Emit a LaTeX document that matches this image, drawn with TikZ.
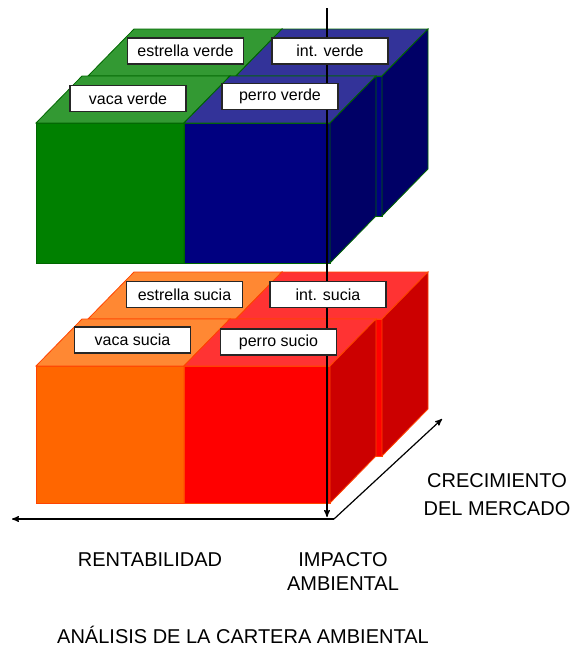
\documentclass[tikz,border=0pt]{standalone}
\usepackage{fontspec}
\setmainfont{Liberation Sans}
\usepackage{tikz}
\usetikzlibrary{arrows}
\definecolor{verdefrente}{HTML}{008000}
\definecolor{verdearriba}{HTML}{339933}
\definecolor{azulfrente}{HTML}{000080}
\definecolor{azularriba}{HTML}{333399}
\definecolor{azullado}{HTML}{000066}
\definecolor{bordeverde}{HTML}{006600}
\definecolor{naranjafrente}{HTML}{FF6600}
\definecolor{naranjaarriba}{HTML}{FF8833}
\definecolor{rojofrente}{HTML}{FF0000}
\definecolor{rojoarriba}{HTML}{FF3333}
\definecolor{rojolado}{HTML}{CC0000}
\definecolor{bordenaranja}{HTML}{FF4400}
\tikzset{
  etiqueta/.style = {draw = black!85, line width = 1pt, fill = white,
    minimum width = 87pt, minimum height = 19.5pt, inner sep = 0pt,
    font = \fontsize{12}{14}\selectfont},
  eje/.style = {align = center, font = \fontsize{15}{18}\selectfont},
  flecha/.style = {->, > = stealth', line width = 0.9pt}
}
% one cube: x, y, width, height, front, top, side, edge
\newcommand{\cubo}[8]{
  \filldraw [fill = #5, draw = #8, line width = 0.6pt] (#1,#2) rectangle ++(#3,#4);
  \filldraw [fill = #6, draw = #8, line width = 0.6pt]
    (#1,#2) -- ++(46,-47) -- ++(#3,0) -- ++(-46,47) -- cycle;
  \filldraw [fill = #7, draw = #8, line width = 0.6pt]
    (#1,#2) ++(#3,0) -- ++(46,-47) -- ++(0,#4) -- ++(-46,47) -- cycle;
}

\begin{document}
\begin{tikzpicture}[x = 0.75pt, y = -0.75pt]
  \useasboundingbox (0,0) rectangle (573,646);
  % blocks: back row first, then front row
  \foreach \yy/\hh/\cizq/\tizq/\cder/\tder/\cla/\cbo in
    {123/140/verdefrente/verdearriba/azulfrente/azularriba/azullado/bordeverde,
     366/137/naranjafrente/naranjaarriba/rojofrente/rojoarriba/rojolado/bordenaranja} {
    \pgfmathtruncatemacro \yb { \yy - 47 };
    \cubo{88}{\yb}{148}{\hh}{\cizq}{\tizq}{\cla}{\cbo}
    \cubo{236}{\yb}{146}{\hh}{\cder}{\tder}{\cla}{\cbo}
    \cubo{36}{\yy}{148}{\hh}{\cizq}{\tizq}{\cla}{\cbo}
    \cubo{184}{\yy}{146}{\hh}{\cder}{\tder}{\cla}{\cbo}
  }
  % axes
  \coordinate (imparriba) at (327,8);
  \coordinate (impabajo) at (327,517);
  \coordinate (origen) at (334,519);
  \coordinate (rent) at (12,519);
  \coordinate (crec) at (442,419);
  \draw [flecha] (imparriba) -- (impabajo);
  \draw [flecha] (origen) -- (rent);
  \draw [flecha] (origen) -- (crec);
  % labels
  \node [etiqueta] (estrellaverde) at (185.5,51) {estrella verde};
  \node [etiqueta] (intverde) at (330,51) {int. verde};
  \node [etiqueta] (vacaverde) at (128,98.5) {vaca verde};
  \node [etiqueta] (perroverde) at (280,96.5) {perro verde};
  \node [etiqueta] (estrellasucia) at (184.5,294.5) {estrella sucia};
  \node [etiqueta] (intsucia) at (328,294.5) {int. sucia};
  \node [etiqueta] (vacasucia) at (132.5,340) {vaca sucia};
  \node [etiqueta] (perrosucio) at (278.5,342) {perro sucio};
  % axis texts
  \node [eje] (crecimiento) at (497,495) {CRECIMIENTO\\[3pt]DEL MERCADO};
  \node [eje] (rentabilidad) at (150,560) {RENTABILIDAD};
  \node [eje] (impacto) at (343,572) {IMPACTO\\AMBIENTAL};
  \node [eje] (titulo) at (243,635) {ANÁLISIS DE LA CARTERA AMBIENTAL};
\end{tikzpicture}
\end{document}
